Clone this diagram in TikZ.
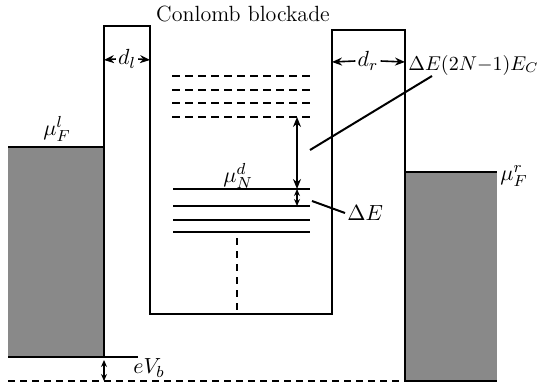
\documentclass[tikz,border=0pt]{standalone}
\usetikzlibrary{arrows.meta}
\definecolor{bandgray}{RGB}{137,137,137}
\begin{document}
\begin{tikzpicture}[x=0.5pt,y=-0.5pt,
  wall/.style={line width=1.1pt,line join=miter},
  level/.style={line width=1pt},
  dlevel/.style={line width=1pt,dash pattern=on 4pt off 2.5pt},
  dim/.style={line width=0.8pt,{Stealth[length=5pt,width=4pt]}-{Stealth[length=5pt,width=4pt]}},
  halfdim/.style={line width=0.8pt,-{Stealth[length=5pt,width=4pt]}},
  lbl/.style={inner sep=1pt,font=\fontsize{11}{13}\selectfont},
  lead/.style={line width=1pt}]
\useasboundingbox (0,0) rectangle (539,385);
% reservoirs
\fill[bandgray] (8,147) rectangle (104,357);
\fill[bandgray] (405,172) rectangle (497,381);
\draw[wall] (8,147) -- (104,147);
\draw[wall] (405,172) -- (497,172);
\draw[wall] (8,357) -- (138,357);
\draw[wall] (405,381) -- (497,381);
\draw[line width=1pt,dash pattern=on 3.5pt off 2.5pt] (8,381) -- (405,381);
% barriers and well
\draw[wall] (104,357) -- (104,26) -- (150,26) -- (150,314) -- (332,314) -- (332,30) -- (405,30) -- (405,381);
% title
\node[lbl] (title) at (243,14) {Conlomb blockade};
% barrier widths
\coordinate (dlA) at (104,60); \coordinate (dlB) at (150,60);
\node[lbl] (dl) at (127,59) {$d_l$};
\draw[halfdim] (dl.west) -- (dlA);
\draw[halfdim] (dl.east) -- (dlB);
\coordinate (drA) at (332,62); \coordinate (drB) at (405,62);
\node[lbl] (dr) at (368,61) {$d_r$};
\draw[halfdim] (dr.west) -- (drA);
\draw[halfdim] (dr.east) -- (drB);
% Fermi labels
\node[lbl] (muFl) at (57,129) {$\mu_F^l$};
\node[lbl] (muFr) at (514,176) {$\mu_F^r$};
% dashed levels
\foreach \y in {76,90,103,117} \draw[dlevel] (172,\y) -- (312,\y);
% solid levels
\foreach \y in {189,206,220,232} \draw[level] (173,\y) -- (310,\y);
\draw[line width=1pt,dash pattern=on 3.5pt off 3pt] (237,238) -- (237,312);
\node[lbl] (muN) at (238,176) {$\mu_N^d$};
% arrows
\coordinate (a1) at (297,117); \coordinate (a2) at (297,189); \coordinate (a3) at (297,206);
\draw[dim] (a1) -- (a2);
\draw[line width=0.7pt,{Stealth[length=3.5pt,width=3pt]}-{Stealth[length=3.5pt,width=3pt]}] (a2) -- (a3);
% labels with leaders
\node[lbl,anchor=west,inner sep=0pt,font=\fontsize{9.6}{11}\selectfont] (EC) at (408,65) {$\Delta E(2N{-}1)E_C$};
\coordinate (ECend) at (310,150);
\draw[lead] (ECend) -- (432,76);
\node[lbl,anchor=west] (dE) at (345,213) {$\Delta E$};
\coordinate (dEend) at (312,201);
\draw[lead] (dEend) -- (dE.west);
% bias
\coordinate (b1) at (104,360); \coordinate (b2) at (104,381);
\draw[line width=0.7pt,{Stealth[length=3.5pt,width=3pt]}-{Stealth[length=3.5pt,width=3pt]}] (b1) -- (b2);
\node[lbl,anchor=west] (eVb) at (131,368) {$eV_b$};
\end{tikzpicture}
\end{document}
